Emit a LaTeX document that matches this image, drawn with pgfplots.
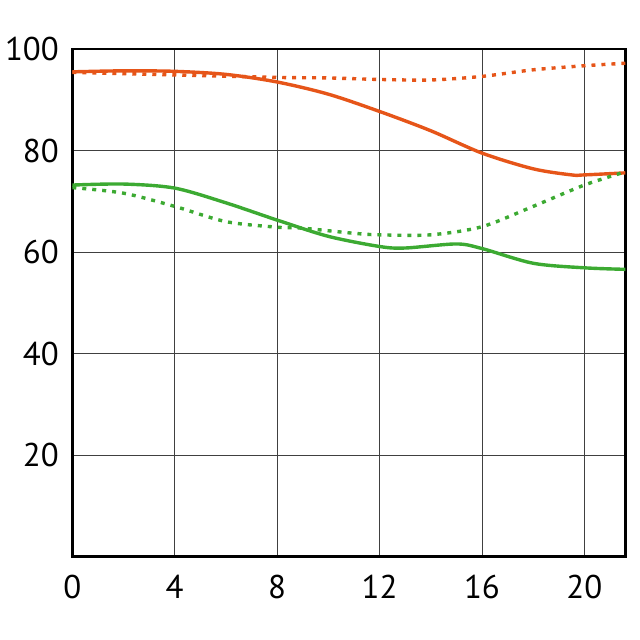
\documentclass[border=0pt]{standalone}
\usepackage{pgfplots}
\pgfplotsset{compat=1.18}
\usepackage{fontspec}
\setmainfont{PT Sans}
\definecolor{corange}{RGB}{230,85,25}
\definecolor{cgreen}{RGB}{60,170,50}
\begin{document}
\begin{tikzpicture}
\path[use as bounding box] (-72.3bp,-83.3bp) rectangle (567.7bp,556.7bp);
\begin{axis}[
  at={(0,0)}, anchor=south west,
  scale only axis, width=553bp, height=507.7bp,
  xmin=0, xmax=21.6, ymin=0, ymax=100,
  xtick={0,4,8,12,16,20}, ytick={20,40,60,80,100},
  grid=major, major grid style={line width=0.8bp, black!75},
  major tick length=0pt,
  axis line style={line width=2.6bp, black},
  tick label style={font=\fontsize{33}{35}\selectfont},
  /pgf/number format/assume math mode=true,
  xticklabel style={yshift=-15bp},
  yticklabel style={xshift=-10bp},
]
\addplot[corange, line width=3.4bp, smooth] coordinates {
(0,95.5) (2,95.7) (4,95.6) (6,95.0) (8,93.5) (10,91.1) (12,87.7) (14,83.9) (16,79.5) (18,76.4) (19.5,75.2) (20,75.2) (21.6,75.6)};
\addplot[corange, line width=3.4bp, smooth, dash pattern=on 4bp off 6bp] coordinates {
(0,95.4) (4,94.9) (8,94.4) (10,94.3) (12,94.0) (14,93.9) (16,94.6) (18,95.9) (20,96.7) (21.6,97.2)};
\addplot[cgreen, line width=3.4bp, smooth] coordinates {
(0,73.2) (2,73.4) (4,72.6) (6,69.7) (8,66.3) (10,63.1) (12,61.1) (13,60.8) (15,61.6) (16,60.7) (18,57.8) (20,56.9) (21.6,56.6)};
\addplot[cgreen, line width=3.4bp, smooth, dash pattern=on 4bp off 6bp] coordinates {
(0,72.7) (2,71.6) (4,69.0) (6,66.0) (8,64.9) (9,64.7) (11,63.7) (12,63.4) (14,63.4) (16,65.0) (18,69.0) (20,73.2) (21.6,75.8)};
\end{axis}
\end{tikzpicture}
\end{document}
